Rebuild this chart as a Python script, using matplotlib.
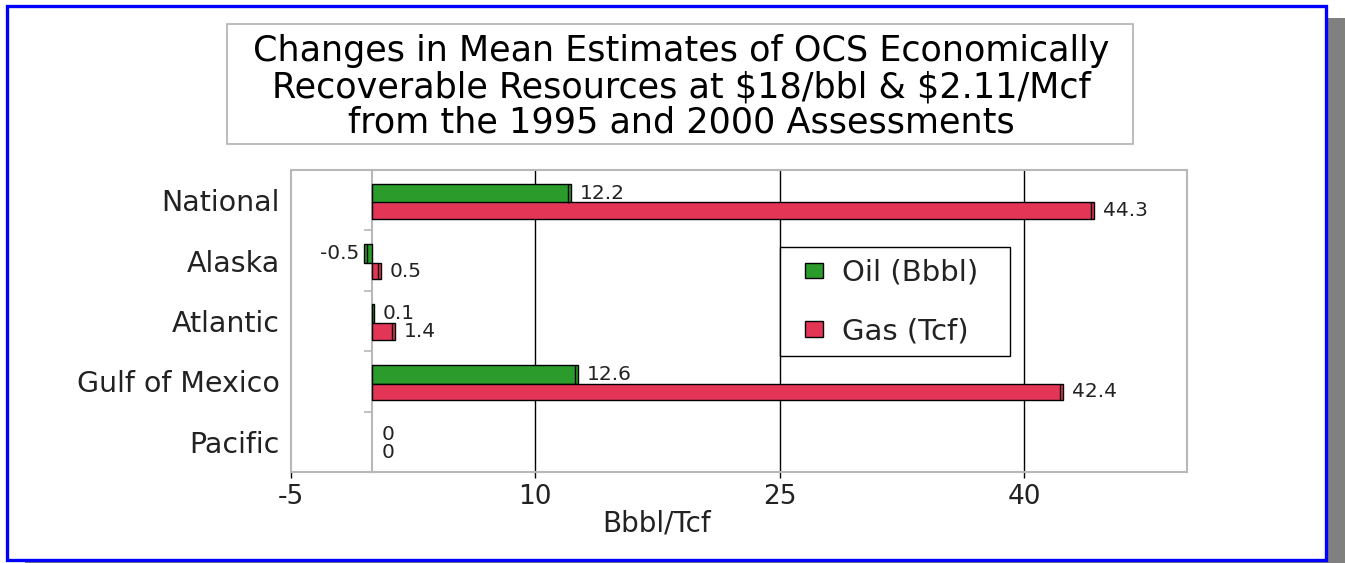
import matplotlib
matplotlib.use('Agg')
import matplotlib.pyplot as plt
from matplotlib.patches import Rectangle
import numpy as np

# ---------------- data ----------------
categories = ['National', 'Alaska', 'Atlantic', 'Gulf of Mexico', 'Pacific']
oil = [12.2, -0.5, 0.1, 12.6, 0]
gas = [44.3, 0.5, 1.4, 42.4, 0]
oil_labels = ['12.2', '-0.5', '0.1', '12.6', '0']
gas_labels = ['44.3', '0.5', '1.4', '42.4', '0']
series_names = ['Oil (Bbbl)', 'Gas (Tcf)']
xticks = [-5, 10, 25, 40]
xlabel = 'Bbbl/Tcf'
title_lines = ['Changes in Mean Estimates of OCS Economically',
               r'Recoverable Resources at \$18/bbl & \$2.11/Mcf',
               'from the 1995 and 2000 Assessments']

# ---------------- style ----------------
GREEN = '#2b9b2b'
RED = '#e33656'
GREY = '#b8b8b8'
TXT = '#222222'
plt.rcParams['font.family'] = ['DejaVu Sans']

W, H = 1345, 563
fig = plt.figure(figsize=(W / 100, H / 100), dpi=100)
fig.patch.set_facecolor('white')

def fx(px):
    return px / W

def fy(py):
    return 1 - py / H

# shadow and border
fig.patches.append(Rectangle((fx(1328), 0), fx(17), fy(18), transform=fig.transFigure,
                             facecolor='#808080', edgecolor='none', zorder=0))
fig.patches.append(Rectangle((fx(25), 0), fx(1320), 2 / H, transform=fig.transFigure,
                             facecolor='#808080', edgecolor='none', zorder=0))
fig.patches.append(Rectangle((fx(7), fy(560)), fx(1319), (560 - 6) / H, transform=fig.transFigure,
                             fill=False, edgecolor='#0000ff', linewidth=2.4, zorder=5))

# title box
fig.patches.append(Rectangle((fx(227), fy(144)), fx(1133 - 227), (144 - 24) / H,
                             transform=fig.transFigure, fill=False,
                             edgecolor='#b0b0b0', linewidth=1.2, zorder=5))
for line, base in zip(title_lines, [61.5, 97.5, 133]):
    fig.text(fx(681), fy(base), line, ha='center', va='baseline',
             fontsize=25.2, color='black')

# ---------------- axes ----------------
AX_L, AX_R, AX_T, AX_B = 291, 1187, 170, 472
ax = fig.add_axes([fx(AX_L), fy(AX_B), fx(AX_R - AX_L), (AX_B - AX_T) / H])

def axx(px):
    return (px - AX_L) / (AX_R - AX_L)

def axy(py):
    return (AX_B - py) / (AX_B - AX_T)

y = np.arange(len(categories))
oil_off, oil_h = -0.118, 0.313
gas_off, gas_h = 0.173, 0.27

lw_oil = [1 if v != 0 else 0 for v in oil]
lw_gas = [1 if v != 0 else 0 for v in gas]
ax.barh(y + oil_off, oil, height=oil_h, color=GREEN, edgecolor='black',
        linewidth=lw_oil, label=series_names[0], zorder=3)
ax.barh(y + gas_off, gas, height=gas_h, color=RED, edgecolor='black',
        linewidth=lw_gas, label=series_names[1], zorder=3)

# 3-D style end lines near bar ends
for vals, off, h in [(oil, oil_off, oil_h), (gas, gas_off, gas_h)]:
    for yi, v in zip(y, vals):
        if abs(v) >= 0.5:
            ax.vlines(v - np.sign(v) * 0.17, yi + off - h / 2, yi + off + h / 2,
                      color='black', linewidth=1, zorder=4)

# value labels
for vals, labs, off in [(oil, oil_labels, oil_off), (gas, gas_labels, gas_off)]:
    for yi, v, lab in zip(y, vals, labs):
        if v < 0:
            ax.annotate(lab, xy=(v, yi + off), xytext=(-4, 0), textcoords='offset points',
                        ha='right', va='center', fontsize=14.5, color=TXT, zorder=5)
        else:
            ax.annotate(lab, xy=(v, yi + off), xytext=(6.5, 0), textcoords='offset points',
                        ha='left', va='center', fontsize=14.5, color=TXT, zorder=5)

ax.set_xlim(-5, 50)
ax.set_ylim(len(categories) - 0.5, -0.5)
ax.set_xticks(xticks)
ax.set_xticklabels([str(t) for t in xticks])
ax.set_yticks(y)
ax.set_yticklabels(categories)
ax.tick_params(axis='y', length=0, pad=8, labelsize=20.5, labelcolor=TXT)
ax.tick_params(axis='x', length=4, width=1, color='black', pad=5, labelsize=19, labelcolor=TXT)

ax.grid(axis='x', color='black', linewidth=1, zorder=1)
ax.set_axisbelow(True)
ax.get_xgridlines()[0].set_visible(False)

for sp in ax.spines.values():
    sp.set_color(GREY)
    sp.set_linewidth(1.5)

# zero line with category-boundary ticks
sec = ax.secondary_yaxis(5 / 55)
sec.set_yticks(np.arange(len(categories)) + 0.5)
sec.tick_params(length=6, width=1.2, color=GREY, labelleft=False, labelright=False)
sec.spines['left'].set_color(GREY)
sec.spines['left'].set_linewidth(1.5)

ax.set_xlabel(xlabel, fontsize=20, color=TXT)
ax.xaxis.set_label_coords(axx(657), axy(523))
ax.xaxis.label.set_va('center')

# legend (frame drawn separately to match the reference box)
ax.add_patch(Rectangle((axx(780), axy(356)), axx(1010) - axx(780), axy(247) - axy(356),
                       transform=ax.transAxes, facecolor='white', edgecolor='black',
                       linewidth=1, zorder=6))
leg = ax.legend(loc='upper left', bbox_to_anchor=(axx(805), axy(259)),
                borderaxespad=0, borderpad=0, fontsize=21, frameon=False,
                handlelength=0.62, handleheight=0.45, handletextpad=0.65,
                labelspacing=1.05)
leg.set_zorder(7)
for t in leg.get_texts():
    t.set_color(TXT)

fig.savefig('out.png', dpi=100, facecolor='white')
